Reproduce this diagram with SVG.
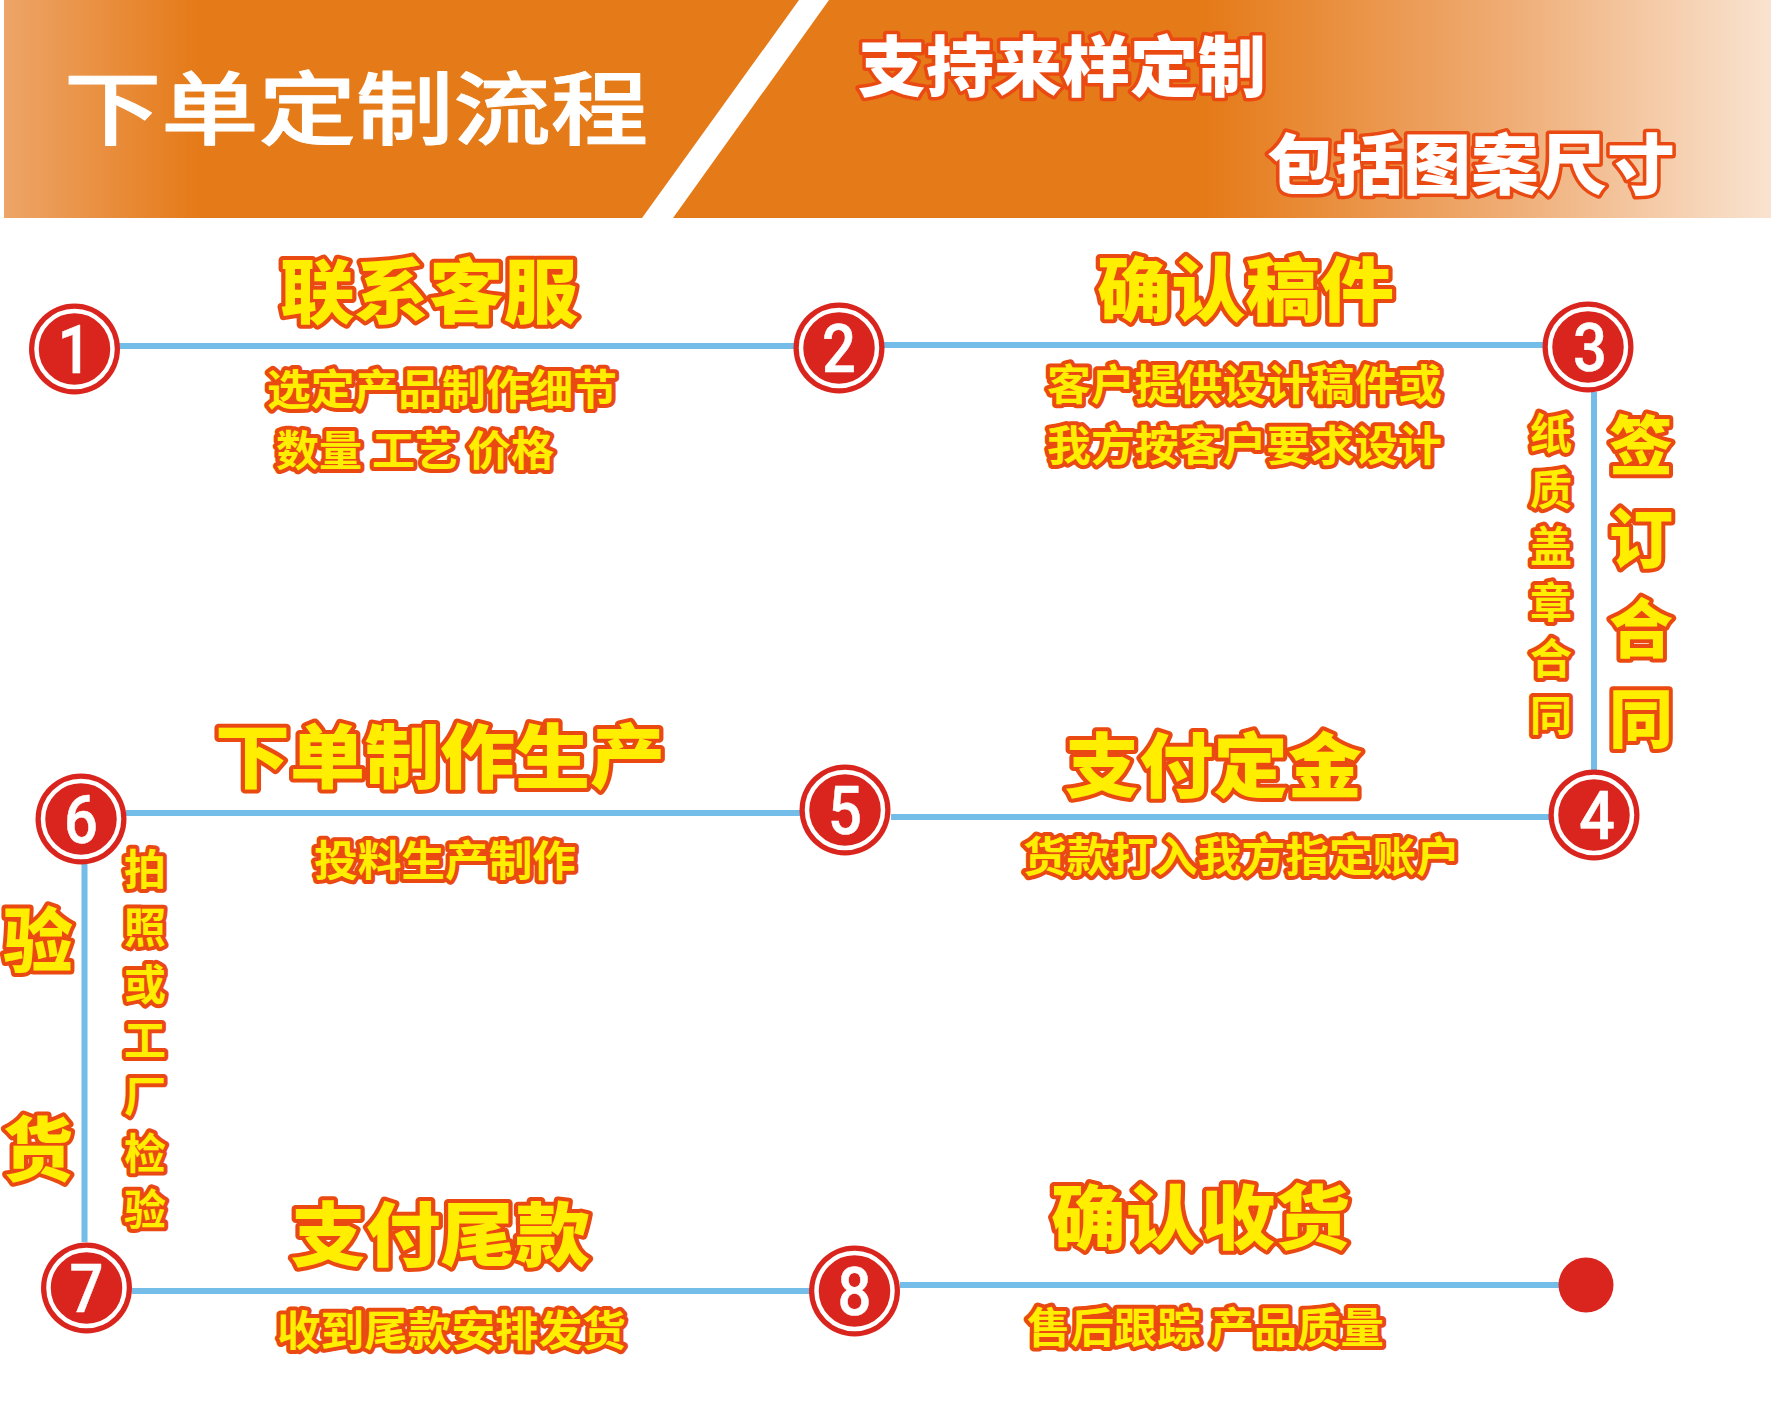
<svg xmlns="http://www.w3.org/2000/svg" width="1771" height="1406" viewBox="0 0 1771 1406">
<style>
text{font-family:"Noto Sans CJK SC","Noto Sans",sans-serif;font-weight:900;paint-order:stroke;stroke-linejoin:round}
.h{font-size:70px;fill:#ffee00;stroke:#ea4a12;stroke-width:8px}
.v{font-size:64px;fill:#ffee00;stroke:#ea4a12;stroke-width:8px;text-anchor:middle}
.s{font-size:42px;font-weight:700;fill:#ffee00;stroke:#ea4a12;stroke-width:8px}
.w{font-size:66px;fill:#fff;stroke:#ea4a12;stroke-width:7px}
.t{font-size:80px;font-weight:500;fill:#fff;stroke:#fff;stroke-width:1px}
.c{text-anchor:middle}
.n{font-family:"Roboto","Liberation Sans",sans-serif;font-size:67px;font-weight:500;fill:#fff;stroke:#fff;stroke-width:0.500px;text-anchor:middle}
.l{stroke:#73bde8;stroke-width:6px;fill:none}
.o{fill:#d9251d}
.r{fill:none;stroke:#fff;stroke-width:4.500px}
</style>
<defs>
<linearGradient id="g" gradientUnits="userSpaceOnUse" x1="4" y1="0" x2="1771" y2="0">
<stop offset="0" stop-color="#eda568"/><stop offset="0.11" stop-color="#e57a18"/><stop offset="0.68" stop-color="#e57a18"/><stop offset="0.85" stop-color="#efac74"/><stop offset="1" stop-color="#f9e3d0"/>
</linearGradient>
<g id="badge"><ellipse class="o" rx="45.500" ry="45.500"/><ellipse class="r" rx="38" ry="38"/></g>
</defs>
<g id="header">
<rect x="4" y="0" width="1767" height="218" fill="url(#g)"/>
<polygon points="799,0 829,0 673,218 642,218" fill="#fff"/>
<text class="t" x="64" y="138" textLength="584" lengthAdjust="spacingAndGlyphs">下单定制流程</text>
<text class="w" x="858" y="91" textLength="408" lengthAdjust="spacingAndGlyphs">支持来样定制</text>
<text class="w" x="1267" y="189" textLength="408" lengthAdjust="spacingAndGlyphs">包括图案尺寸</text>
</g>
<g id="connectors">
<line class="l" x1="119" y1="346" x2="796" y2="346"/>
<line class="l" x1="884" y1="345" x2="1544" y2="345"/>
<line class="l" x1="1594" y1="392" x2="1594" y2="771"/>
<line class="l" x1="1549" y1="817" x2="891" y2="817"/>
<line class="l" x1="801" y1="813" x2="126" y2="813"/>
<line class="l" x1="84.500" y1="864" x2="84.500" y2="1242"/>
<line class="l" x1="132" y1="1291" x2="810" y2="1291"/>
<line class="l" x1="900" y1="1285" x2="1560" y2="1285"/>
</g>
<g id="node1"><use href="#badge" x="74.500" y="349"/><text class="n" x="74.500" y="373" textLength="34" lengthAdjust="spacingAndGlyphs">1</text>
<text class="h" x="280" y="318" textLength="298" lengthAdjust="spacingAndGlyphs">联系客服</text>
<text class="s" x="267" y="405" textLength="350" lengthAdjust="spacingAndGlyphs">选定产品制作细节</text>
<text class="s" x="276" y="466" textLength="278" lengthAdjust="spacingAndGlyphs">数量 工艺 价格</text></g>
<g id="node2"><use href="#badge" x="839" y="348"/><text class="n" x="839" y="372" textLength="34" lengthAdjust="spacingAndGlyphs">2</text>
<text class="h" x="1097" y="316" textLength="297" lengthAdjust="spacingAndGlyphs">确认稿件</text>
<text class="s" x="1047" y="400" textLength="395" lengthAdjust="spacingAndGlyphs">客户提供设计稿件或</text>
<text class="s" x="1047" y="461" textLength="395" lengthAdjust="spacingAndGlyphs">我方按客户要求设计</text></g>
<g id="node3"><use href="#badge" x="1588" y="347"/><text class="n" x="1590" y="371" textLength="34" lengthAdjust="spacingAndGlyphs">3</text>
<text class="v" x="1641" y="469">签</text><text class="v" x="1641" y="562">订</text><text class="v" x="1641" y="652">合</text><text class="v" x="1641" y="742">同</text>
<text class="s c" x="1551" y="449">纸</text><text class="s c" x="1551" y="505">质</text><text class="s c" x="1551" y="562">盖</text><text class="s c" x="1551" y="618">章</text><text class="s c" x="1551" y="674">合</text><text class="s c" x="1551" y="731">同</text></g>
<g id="node4"><use href="#badge" x="1594" y="815"/><text class="n" x="1597" y="839" textLength="36" lengthAdjust="spacingAndGlyphs">4</text>
<text class="h" x="1065" y="792" textLength="297" lengthAdjust="spacingAndGlyphs">支付定金</text>
<text class="s" x="1023" y="872" textLength="437" lengthAdjust="spacingAndGlyphs">货款打入我方指定账户</text></g>
<g id="node5"><use href="#badge" x="845" y="810"/><text class="n" x="845" y="834" textLength="34" lengthAdjust="spacingAndGlyphs">5</text>
<text class="h" x="215" y="783" textLength="450" lengthAdjust="spacingAndGlyphs">下单制作生产</text>
<text class="s" x="314" y="876" textLength="262" lengthAdjust="spacingAndGlyphs">投料生产制作</text></g>
<g id="node6"><use href="#badge" x="81" y="819"/><text class="n" x="81" y="843" textLength="34" lengthAdjust="spacingAndGlyphs">6</text>
<text class="h c" x="38" y="967">验</text><text class="h c" x="38" y="1176">货</text>
<text class="s c" x="145" y="885">拍</text><text class="s c" x="145" y="943">照</text><text class="s c" x="145" y="1000">或</text><text class="s c" x="145" y="1056">工</text><text class="s c" x="145" y="1112">厂</text><text class="s c" x="145" y="1169">检</text><text class="s c" x="145" y="1225">验</text></g>
<g id="node7"><use href="#badge" x="86.500" y="1288"/><text class="n" x="86.500" y="1312" textLength="34" lengthAdjust="spacingAndGlyphs">7</text>
<text class="h" x="291" y="1261" textLength="299" lengthAdjust="spacingAndGlyphs">支付尾款</text>
<text class="s" x="277" y="1346" textLength="349" lengthAdjust="spacingAndGlyphs">收到尾款安排发货</text></g>
<g id="node8"><use href="#badge" x="854.500" y="1291"/><text class="n" x="854.500" y="1315" textLength="34" lengthAdjust="spacingAndGlyphs">8</text>
<text class="h" x="1051" y="1244" textLength="299" lengthAdjust="spacingAndGlyphs">确认收货</text>
<text class="s" x="1027" y="1343" textLength="357" lengthAdjust="spacingAndGlyphs">售后跟踪 产品质量</text></g>
<g id="end"><circle class="o" cx="1586" cy="1285" r="27.500"/></g>
</svg>
